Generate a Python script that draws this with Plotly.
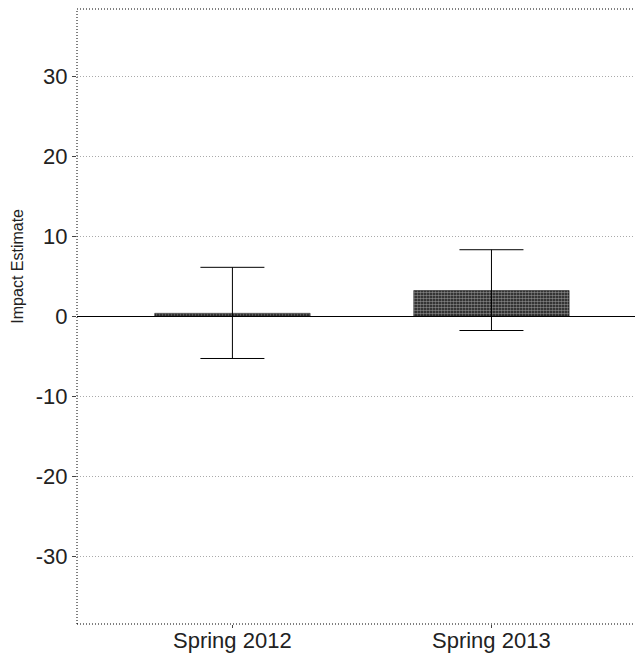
import plotly.graph_objects as go

categories = ["Spring 2012", "Spring 2013"]
impact = [0.35, 3.2]
ci_upper = [6.1, 8.3]
ci_lower = [-5.3, -1.8]
y_ticks = [-30, -20, -10, 0, 10, 20, 30]
y_tick_labels = ["-30", "-20", "-10", "0", "10", "20", "30"]

err_plus = [u - v for u, v in zip(ci_upper, impact)]
err_minus = [v - l for v, l in zip(impact, ci_lower)]
x_pos = list(range(len(categories)))

fig = go.Figure()
fig.add_trace(go.Bar(
    x=x_pos, y=impact, width=0.6,
    marker=dict(color="#111", line=dict(color="#111", width=0.5),
                pattern=dict(shape=".", fgcolor="#eee", bgcolor="#111", size=3, solidity=0.6)),
    error_y=dict(type="data", symmetric=False, array=err_plus, arrayminus=err_minus,
                 color="black", thickness=1, width=32),
    showlegend=False,
))

annotations = [dict(text="Impact Estimate", textangle=-90, xref="paper", yref="paper",
                    x=0, y=0.581, xanchor="center", yanchor="middle", xshift=-59,
                    showarrow=False,
                    font=dict(family="Liberation Sans, Arial", size=16, color="#222"))]
for xi, label in zip(x_pos, categories):
    annotations.append(dict(text=label, x=xi, xref="x", y=0, yref="paper",
                            xanchor="center", yanchor="top", yshift=-2, showarrow=False,
                            font=dict(family="Liberation Sans, Arial", size=22, color="#222")))

fig.update_layout(
    width=635, height=645,
    margin=dict(l=69, r=0, t=1, b=29),
    plot_bgcolor="white", paper_bgcolor="white",
    font=dict(family="Liberation Sans, Arial", size=22, color="#222"),
    xaxis=dict(range=[-0.6, 1.585], tickvals=x_pos, showticklabels=False,
               showgrid=False, zeroline=False, showline=False, automargin=False,
               ticks="outside", ticklen=3, tickcolor="#444"),
    yaxis=dict(range=[-38.5, 38.4], tickvals=y_ticks, ticktext=y_tick_labels,
               showgrid=True, gridcolor="#aaa", griddash="1px,2px", gridwidth=1,
               zeroline=True, zerolinecolor="black", zerolinewidth=1, automargin=False,
               ticks="outside", ticklen=4, tickcolor="#444", tickfont=dict(size=22)),
    annotations=annotations,
    shapes=[dict(type="rect", xref="paper", yref="paper", x0=0, x1=1, y0=0, y1=1,
                 line=dict(color="black", width=1, dash="1px,2px"), layer="above")],
)
fig.write_html("out.html")
